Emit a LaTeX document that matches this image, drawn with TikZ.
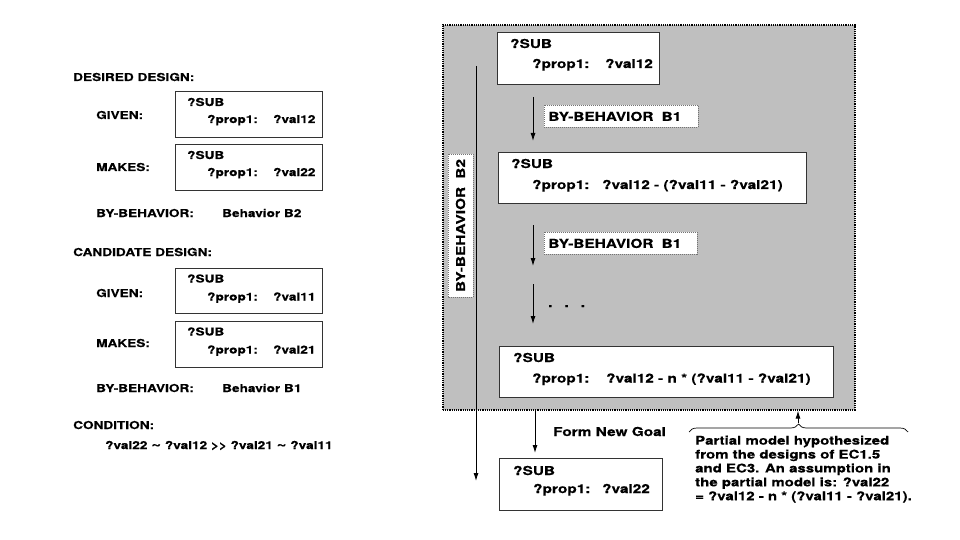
\documentclass[tikz,border=0pt]{standalone}
\usepackage{graphicx}
\usepackage{fontspec}
\setmainfont{TeX Gyre Heros}[FakeStretch=1.25, BoldFeatures={FakeBold=0.3}]
\usetikzlibrary{arrows.meta,decorations.pathreplacing}
\newcommand{\tld}{\raisebox{0.6pt}{\scalebox{1.25}{\char`~}}}
\begin{document}
\begin{tikzpicture}[x=1pt,y=-1pt,
  t/.style={anchor=base west, inner sep=0pt, font=\bfseries\fontsize{12.3}{14}\selectfont},
  tl/.style={anchor=base west, inner sep=0pt, font=\bfseries\fontsize{10.9}{13}\selectfont},
  bx/.style={draw=black!80, line width=0.9pt, fill=white, anchor=north west, inner sep=0pt},
  lab/.style={draw=black!55, line width=0.8pt, dash pattern=on 1pt off 1pt, fill=white,
     inner xsep=4pt, inner ysep=0pt, minimum height=22pt, align=left,
     font=\bfseries\fontsize{12.3}{14}\selectfont},
  arr/.style={-{Latex[length=8pt,width=5pt]}, line width=0.9pt, black},
  gbox/.style={draw=black, line width=1.6pt, dash pattern=on 1.2pt off 1pt, fill=black!25,
     anchor=north west, inner sep=0pt}
]
\useasboundingbox (0,0) rectangle (960,540);

% ---------------- left column ----------------
\node[tl] (dd) at (73,81) {DESIRED DESIGN:};
\node[tl] (dg) at (96,119) {GIVEN:};
\node[bx, minimum width=147pt, minimum height=46pt] (b1) at (175,91) {};
\node[tl] at ([shift={(12,15)}]b1.north west) {?SUB};
\node[tl] at ([shift={(32,32)}]b1.north west) {?prop1:};
\node[tl] at ([shift={(98,32)}]b1.north west) {?val12};
\node[tl] (dm) at (96,171) {MAKES:};
\node[bx, minimum width=147pt, minimum height=46pt] (b2) at (175,144) {};
\node[tl] at ([shift={(12,15)}]b2.north west) {?SUB};
\node[tl] at ([shift={(32,32)}]b2.north west) {?prop1:};
\node[tl] at ([shift={(98,32)}]b2.north west) {?val22};
\node[tl] (db) at (96,217) {BY-BEHAVIOR:};
\node[tl] (dbv) at (222,217) {Behavior B2};

\node[tl] (cd) at (73,256) {CANDIDATE DESIGN:};
\node[tl] (cg) at (96,297) {GIVEN:};
\node[bx, minimum width=147pt, minimum height=45pt] (b3) at (175,268) {};
\node[tl] at ([shift={(12,14.5)}]b3.north west) {?SUB};
\node[tl] at ([shift={(32,32.5)}]b3.north west) {?prop1:};
\node[tl] at ([shift={(98,32.5)}]b3.north west) {?val11};
\node[tl] (cm) at (96,347) {MAKES:};
\node[bx, minimum width=147pt, minimum height=46pt] (b4) at (175,321) {};
\node[tl] at ([shift={(12,14.5)}]b4.north west) {?SUB};
\node[tl] at ([shift={(32,32.5)}]b4.north west) {?prop1:};
\node[tl] at ([shift={(98,32.5)}]b4.north west) {?val21};
\node[tl] (cb) at (96,392) {BY-BEHAVIOR:};
\node[tl] (cbv) at (222,392) {Behavior B1};

\node[tl] (cn) at (73,429) {CONDITION:};
\node[tl] (cx) at (105,449) {?val22 \tld\ ?val12 {>}{>} ?val21 \tld\ ?val11};

% ---------------- right part ----------------
\node[gbox, minimum width=412pt, minimum height=385pt] (gb) at (442,24) {};

\node[bx, minimum width=162pt, minimum height=52pt] (r1) at (497,32) {};
\node[t] at ([shift={(13,16)}]r1.north west) {?SUB};
\node[t] at ([shift={(35,36)}]r1.north west) {?prop1:};
\node[t] at ([shift={(108,36)}]r1.north west) {?val12};

\node[bx, minimum width=308pt, minimum height=51pt] (r2) at (498,152) {};
\node[t] at ([shift={(13,16)}]r2.north west) {?SUB};
\node[t] at ([shift={(34,37)}]r2.north west) {?prop1:};
\node[t] at ([shift={(104,37)}]r2.north west) {?val12 - (?val11 - ?val21)};

\node[bx, minimum width=334pt, minimum height=51pt] (r3) at (499,346) {};
\node[t] at ([shift={(14,16)}]r3.north west) {?SUB};
\node[t] at ([shift={(33,36.5)}]r3.north west) {?prop1:};
\node[t] at ([shift={(107,36.5)}]r3.north west) {?val12 - n * (?val11 - ?val21)};

\node[bx, minimum width=163pt, minimum height=52pt] (r4) at (499,458) {};
\node[t] at ([shift={(14,17)}]r4.north west) {?SUB};
\node[t] at ([shift={(34,35)}]r4.north west) {?prop1:};
\node[t] at ([shift={(103,35)}]r4.north west) {?val22};

\node[lab, text width=146pt, anchor=north west] (l1) at (544,105) {BY-BEHAVIOR\ \ B1};
\node[lab, text width=145pt, anchor=north west] (l2) at (544,232) {BY-BEHAVIOR\ \ B1};
\node[lab, text width=135pt, minimum height=25pt, align=center, rotate=90] (l3) at (460.5,225.5) {BY-BEHAVIOR\ \ B2};

\coordinate (a1s) at (533,97);  \coordinate (a1e) at (533,141);
\coordinate (a2s) at (533,225); \coordinate (a2e) at (533,266);
\coordinate (a3s) at (533,284); \coordinate (a3e) at (533,324);
\coordinate (a4s) at (535,411); \coordinate (a4e) at (535,453);
\coordinate (vls) at (476,66);  \coordinate (vle) at (476,481);
\coordinate (bt)  at (798,423);

\draw[arr] (a1s) -- (a1e);
\draw[arr] (a2s) -- (a2e);
\draw[arr] (a3s) -- (a3e);
\draw[arr] (a4s) -- (a4e);
\draw[arr] (vls) -- (vle);

\node[t] (dots) at (548,307) {.\hspace{12pt}.\hspace{12pt}.};
\node[t] (fng) at (553,436) {Form New Goal};

\coordinate (brl) at (689,432);
\coordinate (brr) at (908,432);
\draw[line width=0.7pt, decorate, decoration={brace, amplitude=8pt}] (brl) -- (brr);
\draw[arr] (bt) -- (gb.south -| bt);

\node[anchor=north west, inner sep=0pt, align=left, font=\bfseries\fontsize{12.0}{13.9}\selectfont] (note) at (695,435.5)
 {Partial model hypothesized\\from the designs of EC1.5\\and EC3. An assumption in\\the partial model is: ?val22\\= ?val12 - n * (?val11 - ?val21).};
\end{tikzpicture}
\end{document}
